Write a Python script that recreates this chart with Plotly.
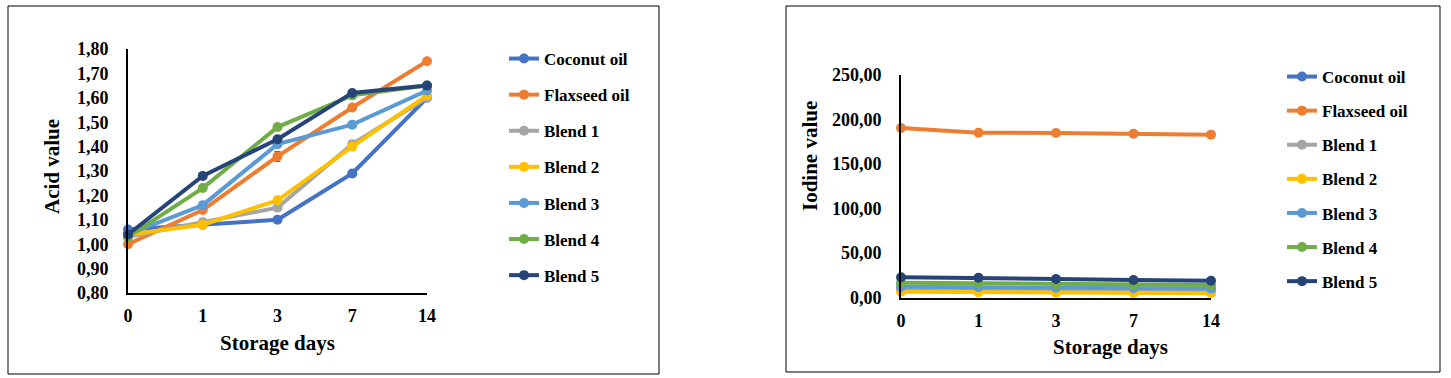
import plotly.graph_objects as go

days = ["0", "1", "3", "7", "14"]
series_names = ["Coconut oil", "Flaxseed oil", "Blend 1", "Blend 2", "Blend 3", "Blend 4", "Blend 5"]
colors = ["#4472C4", "#ED7D31", "#A5A5A5", "#FFC000", "#5B9BD5", "#70AD47", "#264478"]

# Acid value
acid_coconut = [1.06, 1.08, 1.10, 1.29, 1.60]
acid_flaxseed = [1.00, 1.14, 1.36, 1.56, 1.75]
acid_blend1 = [1.03, 1.09, 1.15, 1.41, 1.60]
acid_blend2 = [1.04, 1.08, 1.18, 1.40, 1.61]
acid_blend3 = [1.04, 1.16, 1.41, 1.49, 1.63]
acid_blend4 = [1.03, 1.23, 1.48, 1.61, 1.65]
acid_blend5 = [1.04, 1.28, 1.43, 1.62, 1.65]
acid_err_coconut = [0.005, 0.008, 0.008, 0.010, 0.008]
acid_err_flaxseed = [0.005, 0.010, 0.020, 0.012, 0.005]
acid_err_blend1 = [0.005, 0.015, 0.012, 0.010, 0.008]
acid_err_blend2 = [0.005, 0.010, 0.008, 0.010, 0.008]
acid_err_blend3 = [0.005, 0.008, 0.008, 0.008, 0.008]
acid_err_blend4 = [0.005, 0.008, 0.008, 0.008, 0.008]
acid_err_blend5 = [0.005, 0.008, 0.008, 0.008, 0.008]

# Iodine value
iod_coconut = [8.0, 7.5, 7.0, 6.8, 6.5]
iod_flaxseed = [190.5, 185.2, 184.8, 184.0, 183.0]
iod_blend1 = [9.0, 8.5, 8.0, 7.5, 7.0]
iod_blend2 = [6.5, 6.0, 5.5, 5.0, 4.7]
iod_blend3 = [12.0, 11.5, 11.0, 10.5, 10.0]
iod_blend4 = [16.6, 16.0, 15.0, 14.5, 14.0]
iod_blend5 = [22.7, 22.2, 20.8, 19.7, 18.9]

acid_tickvals = [0.8, 0.9, 1.0, 1.1, 1.2, 1.3, 1.4, 1.5, 1.6, 1.7, 1.8]
acid_ticktext = ["0,80", "0,90", "1,00", "1,10", "1,20", "1,30", "1,40", "1,50", "1,60", "1,70", "1,80"]
iod_tickvals = [0, 50, 100, 150, 200, 250]
iod_ticktext = ["0,00", "50,00", "100,00", "150,00", "200,00", "250,00"]

acid_data = [acid_coconut, acid_flaxseed, acid_blend1, acid_blend2, acid_blend3, acid_blend4, acid_blend5]
acid_errs = [acid_err_coconut, acid_err_flaxseed, acid_err_blend1, acid_err_blend2,
             acid_err_blend3, acid_err_blend4, acid_err_blend5]
iod_data = [iod_coconut, iod_flaxseed, iod_blend1, iod_blend2, iod_blend3, iod_blend4, iod_blend5]

W, H = 1451, 378
FONT = "Liberation Serif"

fig = go.Figure()
for i, name in enumerate(series_names):
    fig.add_trace(go.Scatter(
        x=days, y=acid_data[i], name=name, mode="lines+markers",
        line=dict(color=colors[i], width=4),
        marker=dict(color=colors[i], size=10),
        error_y=dict(type="data", array=acid_errs[i], color="#404040", thickness=1, width=3),
        cliponaxis=False, xaxis="x", yaxis="y", legend="legend",
        legendgroup="a" + str(i),
    ))
for i, name in enumerate(series_names):
    fig.add_trace(go.Scatter(
        x=days, y=iod_data[i], name=name, mode="lines+markers",
        line=dict(color=colors[i], width=4),
        marker=dict(color=colors[i], size=10),
        cliponaxis=False, xaxis="x2", yaxis="y2", legend="legend2",
        legendgroup="b" + str(i),
    ))

tickfont = dict(family=FONT, size=18, color="black", weight="bold")
axis_common = dict(showline=True, linecolor="black", linewidth=2, showgrid=False,
                   zeroline=False, ticks="", tickfont=tickfont, automargin=False)
title_font = dict(family=FONT, size=21, color="black", weight="bold")

fig.update_layout(
    width=W, height=H, margin=dict(l=0, r=0, t=0, b=0, pad=0, autoexpand=False),
    paper_bgcolor="white", plot_bgcolor="white",
    font=dict(family=FONT, color="black"),
    xaxis=dict(domain=[128 / W, 427 / W], type="category", range=[0, 4],
               anchor="y", ticklabelstandoff=5, **axis_common),
    yaxis=dict(domain=[(H - 293) / H, (H - 49) / H], range=[0.8, 1.8], anchor="x",
               tickvals=acid_tickvals, ticktext=acid_ticktext, ticklabelstandoff=14,
               **axis_common),
    xaxis2=dict(domain=[901 / W, 1211 / W], type="category", range=[0, 4],
                anchor="y2", ticklabelstandoff=6, **axis_common),
    yaxis2=dict(domain=[(H - 297.5) / H, (H - 75) / H], range=[0, 250], anchor="x2",
                tickvals=iod_tickvals, ticktext=iod_ticktext, ticklabelstandoff=14,
                **axis_common),
    legend=dict(x=504 / W, y=(H - 41) / H, xanchor="left", yanchor="top",
                font=dict(family=FONT, size=17, color="black", weight="bold"),
                tracegroupgap=11, bgcolor="rgba(0,0,0,0)", itemwidth=30),
    legend2=dict(x=1282 / W, y=(H - 59) / H, xanchor="left", yanchor="top",
                 font=dict(family=FONT, size=17, color="black", weight="bold"),
                 tracegroupgap=9, bgcolor="rgba(0,0,0,0)", itemwidth=30),
    shapes=[
        dict(type="rect", xref="paper", yref="paper", x0=8 / W, x1=659 / W,
             y0=(H - 374) / H, y1=(H - 6) / H, line=dict(color="black", width=1)),
        dict(type="rect", xref="paper", yref="paper", x0=786 / W, x1=1440 / W,
             y0=(H - 372) / H, y1=(H - 6) / H, line=dict(color="black", width=1)),
    ],
    annotations=[
        dict(text="Acid value", xref="paper", yref="paper", x=52 / W, y=(H - 167) / H,
             xanchor="center", yanchor="middle", showarrow=False, textangle=-90,
             font=title_font),
        dict(text="Storage days", xref="paper", yref="paper", x=277 / W, y=(H - 343) / H,
             xanchor="center", yanchor="middle", showarrow=False, font=title_font),
        dict(text="Iodine value", xref="paper", yref="paper", x=810 / W, y=(H - 156) / H,
             xanchor="center", yanchor="middle", showarrow=False, textangle=-90,
             font=title_font),
        dict(text="Storage days", xref="paper", yref="paper", x=1110 / W, y=(H - 347) / H,
             xanchor="center", yanchor="middle", showarrow=False, font=title_font),
    ],
)

fig.write_html(
    "out.html",
    config={"displayModeBar": False},
    post_script="document.body.style.margin='0';document.body.style.overflow='hidden';"
                "document.documentElement.style.overflow='hidden';",
)
